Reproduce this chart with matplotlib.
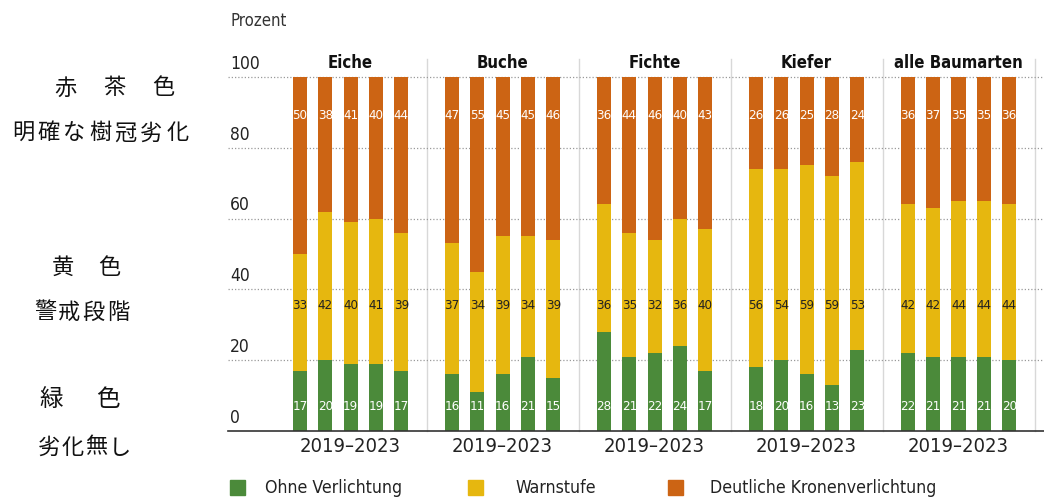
import matplotlib
matplotlib.use('Agg')
import matplotlib.pyplot as plt
import numpy as np
from matplotlib.patches import Rectangle

# ---- data ----
species = ['Eiche', 'Buche', 'Fichte', 'Kiefer', 'alle Baumarten']
years = ['2019', '2020', '2021', '2022', '2023']
period_label = '2019–2023'

ohne = [
    [17, 20, 19, 19, 17],
    [16, 11, 16, 21, 15],
    [28, 21, 22, 24, 17],
    [18, 20, 16, 13, 23],
    [22, 21, 21, 21, 20],
]
warn = [
    [33, 42, 40, 41, 39],
    [37, 34, 39, 34, 39],
    [36, 35, 32, 36, 40],
    [56, 54, 59, 59, 53],
    [42, 42, 44, 44, 44],
]
deutlich = [
    [50, 38, 41, 40, 44],
    [47, 55, 45, 45, 46],
    [36, 44, 46, 40, 43],
    [26, 26, 25, 28, 24],
    [36, 37, 35, 35, 36],
]
series_names = ['Ohne Verlichtung', 'Warnstufe', 'Deutliche Kronenverlichtung']
yticks = [0, 20, 40, 60, 80, 100]

# ---- style ----
GREEN = '#4b8a3a'
YELLOW = '#e6b70f'
ORANGE = '#cc6414'
GRID = '#9a9a9a'
SEP = '#d8d8d8'

TXT = ['DejaVu Sans']
ST = 'condensed'
JP = ['Noto Sans CJK JP', 'DejaVu Sans']

fig = plt.figure(figsize=(10.44, 4.99), dpi=100)
fig.patch.set_facecolor('white')
ax = fig.add_axes([228 / 1044, 68 / 499, 816 / 1044, 354 / 499])
SLOT = 25.33
x_left = -72 / SLOT
ax.set_xlim(x_left, x_left + 816 / SLOT)
ax.set_ylim(0, 100)
ax.axis('off')

BAR_W = 0.56
GROUP = 6

# gridlines + tick labels
for t in yticks[1:]:
    ax.plot([x_left, 29.3], [t, t], ls=(0, (1, 1.6)), lw=0.9, color=GRID,
            clip_on=False, zorder=1)
for t in yticks:
    ax.text(x_left + 0.08, t + 1.2, str(t), ha='left', va='bottom',
            fontsize=12.5, family=TXT, fontstretch=ST, color='#222222', clip_on=False)
ax.plot([x_left, x_left + 816 / SLOT], [0, 0], color='#333333', lw=1.2,
        clip_on=False, zorder=4)

# separators
for g in range(len(species)):
    ax.plot([g * GROUP + 5, g * GROUP + 5], [0, 105], color=SEP, lw=1.0,
            clip_on=False, zorder=0)

for g, sp in enumerate(species):
    xs = g * GROUP + np.arange(len(years))
    o = np.array(ohne[g]); w = np.array(warn[g]); d = np.array(deutlich[g])
    ax.bar(xs, o, width=BAR_W, color=GREEN, zorder=3)
    ax.bar(xs, w, width=BAR_W, bottom=o, color=YELLOW, zorder=3)
    ax.bar(xs, d, width=BAR_W, bottom=o + w, color=ORANGE, zorder=3)
    for x, a, b, c in zip(xs, o, w, d):
        ax.text(x, 7, str(a), ha='center', va='center', fontsize=9.5,
                family=TXT, fontstretch=ST, color='white', zorder=5)
        ax.text(x, 35.5, str(b), ha='center', va='center', fontsize=9.5,
                family=TXT, fontstretch=ST, color='#222222', zorder=5)
        ax.text(x, 89, str(c), ha='center', va='center', fontsize=9.5,
                family=TXT, fontstretch=ST, color='white', zorder=5)
    ax.text(g * GROUP + 2, 101.5, sp, ha='center', va='bottom', fontsize=12,
            fontweight='bold', family=TXT, fontstretch=ST, color='#111111', clip_on=False)
    ax.text(g * GROUP + 2, -4.5, period_label, ha='center', va='center',
            fontsize=14.5, family=TXT, fontstretch=ST, color='#222222', clip_on=False)

# title
fig.text(230 / 1044, 1 - 21 / 499, 'Prozent', ha='left', va='center',
         fontsize=12, family=TXT, fontstretch=ST, color='#333333')

# legend
leg = [(230, 265, GREEN), (468, 515, YELLOW), (668, 710, ORANGE)]
for (sx, tx, c), name in zip(leg, series_names):
    fig.patches.append(Rectangle((sx / 1044, 1 - 495 / 499), 15 / 1044, 15 / 499,
                                 transform=fig.transFigure, color=c, figure=fig))
    fig.text(tx / 1044, 1 - 488 / 499, name, ha='left', va='center',
             fontsize=12.7, family=TXT, fontstretch=ST, color='#222222')

# Japanese annotations on the left, placed character by character
jp_lines = [
    ('赤茶色', 88, 65, 49, 16),
    ('明確な樹冠劣化', 133, 23, 25.7, 16),
    ('黄色', 267, 63, 46, 16),
    ('警戒段階', 312, 45, 24.3, 16),
    ('緑色', 399, 51, 57, 17),
    ('劣化無し', 447, 49, 23.7, 16),
]
for s, y, x0, pitch, fs in jp_lines:
    for i, ch in enumerate(s):
        fig.text((x0 + i * pitch) / 1044, 1 - y / 499, ch, ha='center', va='center',
                 fontsize=fs, family=JP, color='#111111')

fig.savefig('out.png', dpi=100, facecolor='white')
